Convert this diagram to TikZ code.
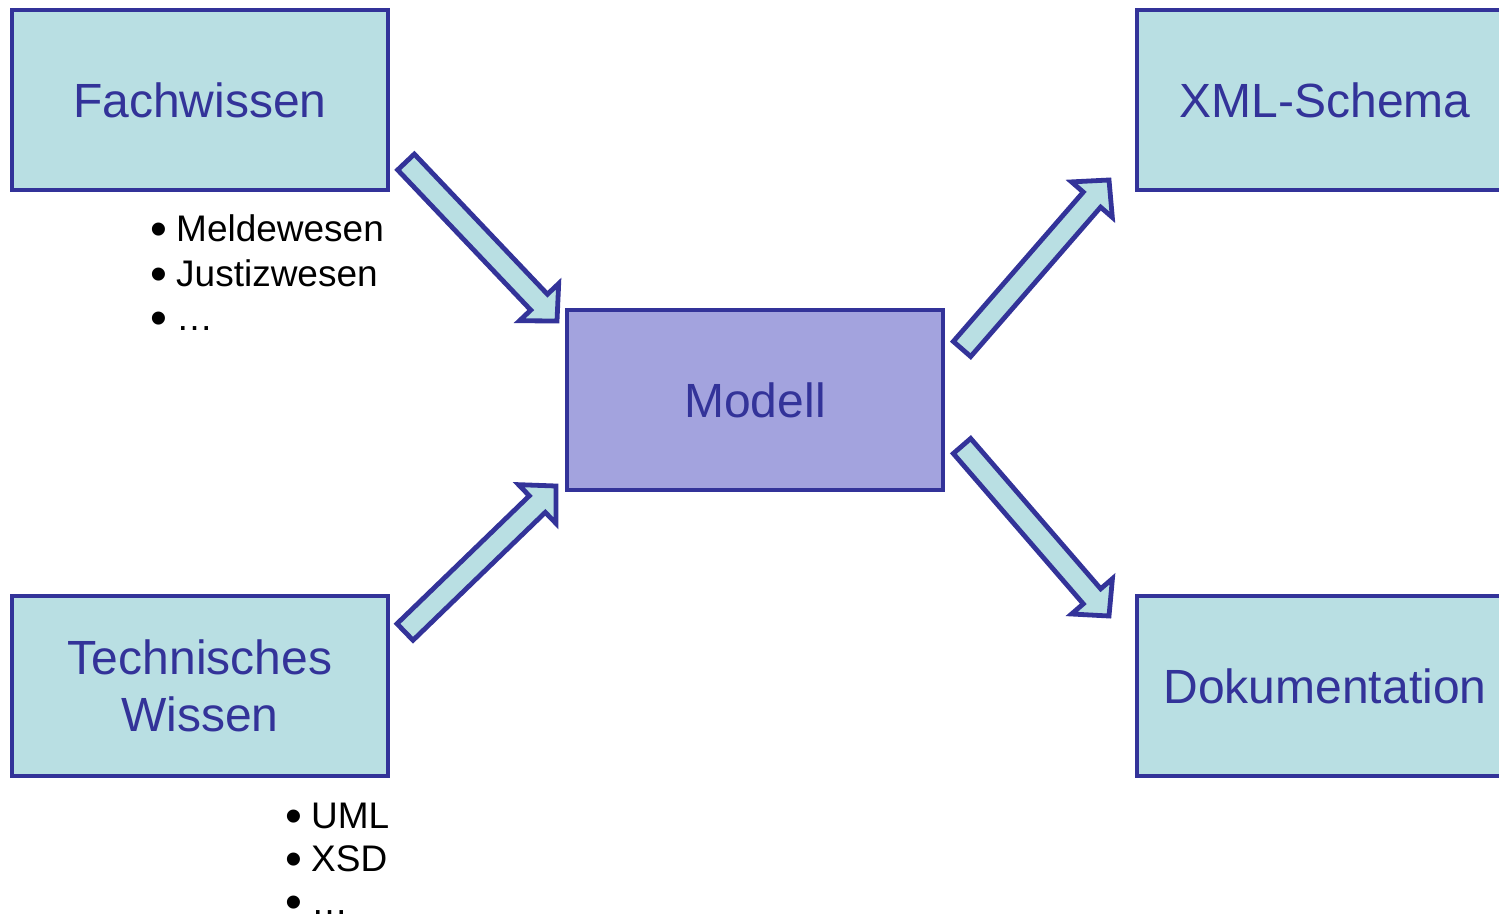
\documentclass[tikz,border=0pt]{standalone}
\usepackage{fontspec}
\setmainfont{Liberation Sans}
\usetikzlibrary{calc}

\definecolor{edgeblue}{HTML}{333399}
\definecolor{paleteal}{HTML}{B9DFE3}
\definecolor{lavender}{HTML}{A3A3DE}

% list bullet placed left of the item text
\newcommand\itembullet{\llap{\smash{\raisebox{-4pt}{\scalebox{1.3}{•}}}\hspace{9pt}}}

% block arrow from #1 (tail centre) to #2 (tip)
\newcommand\blockarr[2]{%
  \coordinate (#2-base) at ($(#2)!26pt!(#1)$);
  \draw[barrow]
    ($(#1)!11.5pt!90:(#2)$) --
    ($(#2-base)!11.5pt!90:(#2)$) --
    ($(#2-base)!27pt!90:(#2)$) --
    (#2) --
    ($(#2-base)!27pt!-90:(#2)$) --
    ($(#2-base)!11.5pt!-90:(#2)$) --
    ($(#1)!11.5pt!-90:(#2)$) -- cycle;}

\begin{document}
\begin{tikzpicture}[x=1pt,y=-1pt,
  box/.style={draw=edgeblue, line width=4.8pt, fill=paleteal,
    minimum width=376pt, minimum height=180pt, inner sep=0pt,
    text=edgeblue, align=center, font=\fontsize{48}{57}\selectfont},
  centerbox/.style={box, fill=lavender},
  barrow/.style={draw=edgeblue, line width=4.8pt, fill=paleteal, line join=miter},
  item/.style={anchor=base west, inner sep=0pt, font=\fontsize{37}{45}\selectfont}]
\useasboundingbox (0,0) rectangle (1499,918);

% boxes
\node[box] (fach) at (200,100) {Fachwissen};
\node[box] (tech) at (200,686) {Technisches\\Wissen};
\node[centerbox] (modell) at (755,400) {Modell};
\node[box] (xml) at (1325,100) {XML-Schema};
\node[box] (doku) at (1325,686) {Dokumentation};

% bullet lists
\node[item] (f1) at (176,241) {\itembullet Meldewesen};
\node[item] (f2) at (176,286) {\itembullet Justizwesen};
\node[item] (f3) at (176,330) {\itembullet …};
\node[item] (t1) at (311,828) {\itembullet UML};
\node[item] (t2) at (311,871) {\itembullet XSD};
\node[item] (t3) at (311,914) {\itembullet …};

% arrow end points
\coordinate (a1s) at (406,162);
\coordinate (a1t) at (557,321);
\coordinate (a2s) at (405,632);
\coordinate (a2t) at (556,486);
\coordinate (a3s) at (962,349);
\coordinate (a3t) at (1109,180);
\coordinate (a4s) at (962,446);
\coordinate (a4t) at (1109,616);

\blockarr{a1s}{a1t}
\blockarr{a2s}{a2t}
\blockarr{a3s}{a3t}
\blockarr{a4s}{a4t}
\end{tikzpicture}
\end{document}
